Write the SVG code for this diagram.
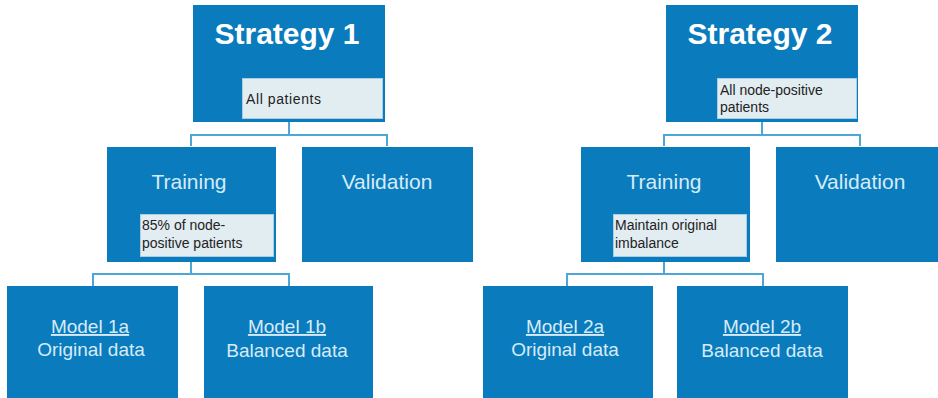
<svg xmlns="http://www.w3.org/2000/svg" width="938" height="398" viewBox="0 0 938 398">
  <style>
    .box { fill: #0a7bbd; }
    .note { fill: #e2edf2; stroke: #a9cde2; stroke-width: 1; }
    .conn { fill: none; stroke: #4ca6d6; stroke-width: 2; }
    text { font-family: "Liberation Sans", Arial, sans-serif; }
    .title { fill: #ffffff; font-size: 30px; font-weight: bold; text-anchor: middle; }
    .head { fill: #d6ebf7; font-size: 21px; text-anchor: middle; }
    .model { fill: #d6ebf7; font-size: 19px; text-anchor: middle; }
    .small { fill: #222222; font-size: 14px; }
  </style>

  <!-- connectors -->
  <g id="connectors">
    <path class="conn" d="M289,122 V135 M191,146 V135 H387 V146"/>
    <path class="conn" d="M191,262 V274 M93,286 V274 H289 V286"/>
    <path class="conn" d="M762,122 V135 M664,146 V135 H860 V146"/>
    <path class="conn" d="M664,262 V274 M567,286 V274 H763 V286"/>
  </g>

  <!-- strategy 1 -->
  <g id="strategy1">
    <rect class="box" x="193" y="5" width="192" height="117"/>
    <text class="title" x="287" y="44">Strategy 1</text>
    <rect class="note" x="242.5" y="78.5" width="140" height="40"/>
    <text class="small" x="246" y="104" letter-spacing="0.6">All patients</text>
  </g>

  <g id="training1">
    <rect class="box" x="107" y="147" width="169" height="115"/>
    <text class="head" x="189" y="189">Training</text>
    <rect class="note" x="140.5" y="214.5" width="133" height="42"/>
    <text class="small" x="142" y="230">85% of node-</text>
    <text class="small" x="142" y="248">positive patients</text>
  </g>

  <g id="validation1">
    <rect class="box" x="302" y="147" width="171" height="115"/>
    <text class="head" x="387" y="189">Validation</text>
  </g>

  <g id="model1a">
    <rect class="box" x="7" y="286" width="171" height="112"/>
    <text class="model" x="90" y="333" text-decoration="underline">Model 1a</text>
    <text class="model" x="91" y="356">Original data</text>
  </g>

  <g id="model1b">
    <rect class="box" x="204" y="286" width="169" height="112"/>
    <text class="model" x="287" y="333" text-decoration="underline">Model 1b</text>
    <text class="model" x="287" y="357">Balanced data</text>
  </g>

  <!-- strategy 2 -->
  <g id="strategy2">
    <rect class="box" x="666" y="5" width="192" height="117"/>
    <text class="title" x="760" y="44">Strategy 2</text>
    <rect class="note" x="717.5" y="78.5" width="139" height="40"/>
    <text class="small" x="720" y="95">All node-positive</text>
    <text class="small" x="720" y="112">patients</text>
  </g>

  <g id="training2">
    <rect class="box" x="581" y="147" width="169" height="115"/>
    <text class="head" x="664" y="189">Training</text>
    <rect class="note" x="613.5" y="214.5" width="133" height="42"/>
    <text class="small" x="615" y="230">Maintain original</text>
    <text class="small" x="615" y="248">imbalance</text>
  </g>

  <g id="validation2">
    <rect class="box" x="776" y="147" width="162" height="115"/>
    <text class="head" x="860" y="189">Validation</text>
  </g>

  <g id="model2a">
    <rect class="box" x="483" y="286" width="170" height="112"/>
    <text class="model" x="565" y="333" text-decoration="underline">Model 2a</text>
    <text class="model" x="565" y="356">Original data</text>
  </g>

  <g id="model2b">
    <rect class="box" x="677" y="286" width="171" height="112"/>
    <text class="model" x="762" y="333" text-decoration="underline">Model 2b</text>
    <text class="model" x="762" y="357">Balanced data</text>
  </g>
</svg>
